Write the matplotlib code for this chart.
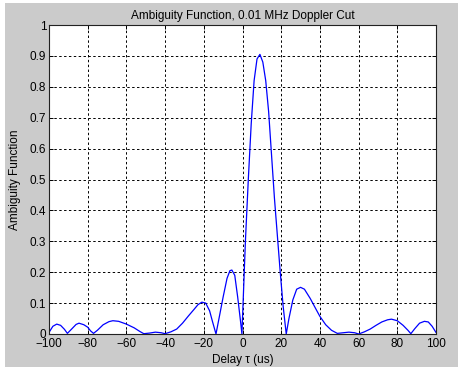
import matplotlib
matplotlib.use("Agg")
import matplotlib.pyplot as plt
from matplotlib.patches import Rectangle

delay_us = [-100, -98, -96, -94, -92, -90.5, -88, -86, -84.5, -82, -80, -78.5, -77,
            -75, -72, -69, -67, -64, -60, -56, -53, -51, -48, -45, -42, -40, -37,
            -34, -31, -28, -25, -23, -21, -19, -17, -15.5, -13.7, -12, -10, -8,
            -6.5, -5.5, -4, -2.5, -1, -0.3, 1.5, 3, 4.5, 6, 7.5, 9, 10.5, 12, 13.5,
            15, 16.5, 18, 19.5, 21, 22.6, 24, 26, 28, 30, 32, 35, 38, 40, 43, 46,
            49, 52, 55, 58, 60, 63, 66, 69, 72, 75, 77, 80, 83, 85.5, 87, 89, 91.5,
            94, 96, 98, 100]
amb = [0.005, 0.025, 0.032, 0.028, 0.015, 0.002, 0.018, 0.031, 0.035, 0.030, 0.022,
       0.010, 0.002, 0.012, 0.030, 0.040, 0.043, 0.041, 0.032, 0.020, 0.008, 0.001,
       0.003, 0.006, 0.004, 0.001, 0.007, 0.016, 0.035, 0.058, 0.080, 0.095, 0.103,
       0.100, 0.075, 0.040, 0.0, 0.055, 0.120, 0.180, 0.205, 0.207, 0.190, 0.120,
       0.040, 0.0, 0.30, 0.50, 0.68, 0.82, 0.89, 0.905, 0.88, 0.82, 0.72, 0.58,
       0.44, 0.32, 0.20, 0.09, 0.0, 0.05, 0.11, 0.145, 0.151, 0.145, 0.115, 0.08,
       0.057, 0.030, 0.012, 0.002, 0.004, 0.006, 0.004, 0.0, 0.007, 0.016, 0.028,
       0.039, 0.046, 0.048, 0.043, 0.028, 0.012, 0.001, 0.017, 0.035, 0.041, 0.039,
       0.025, 0.005]

xticks = [-100, -80, -60, -40, -20, 0, 20, 40, 60, 80, 100]
yticks = [0, 0.1, 0.2, 0.3, 0.4, 0.5, 0.6, 0.7, 0.8, 0.9, 1]
ytick_labels = ["0", "0.1", "0.2", "0.3", "0.4", "0.5", "0.6", "0.7", "0.8", "0.9", "1"]

plt.rcParams['font.family'] = ['Liberation Sans', 'DejaVu Sans']
fig = plt.figure(figsize=(4.58, 3.67), dpi=100, facecolor='#cbcbcb')
# white strips at left and top edges
fig.patches.append(Rectangle((0, 0), 5/458, 1, transform=fig.transFigure,
                             facecolor='white', edgecolor='none', zorder=-1))
fig.patches.append(Rectangle((0, 1 - 3/367), 1, 3/367, transform=fig.transFigure,
                             facecolor='white', edgecolor='none', zorder=-1))

ax = fig.add_axes([49/458, 33/367, 387/458, 309/367])
ax.set_facecolor('white')
ax.plot(delay_us, amb, color='#0000ff', linewidth=0.9)
ax.set_xlim(-100, 100)
ax.set_ylim(0, 1)
ax.set_xticks(xticks)
ax.set_yticks(yticks)
ax.set_yticklabels(ytick_labels)
ax.grid(True, color='black', linestyle=(0, (2.5, 2.5)), linewidth=0.7)
ax.tick_params(direction='in', length=3, width=0.7, top=True, right=True,
               labelsize=8.5, colors='black', pad=2)
ax.tick_params(axis='x', pad=3)
for s in ax.spines.values():
    s.set_linewidth(0.8)
    s.set_color('#222222')
ax.set_title('Ambiguity Function, 0.01 MHz Doppler Cut', fontsize=8.5, pad=4)
ax.set_xlabel('Delay τ (us)', fontsize=8.5, labelpad=3)
ax.set_ylabel('Ambiguity Function', fontsize=8.5, labelpad=6)

fig.savefig('out.png', dpi=100, facecolor=fig.get_facecolor())
